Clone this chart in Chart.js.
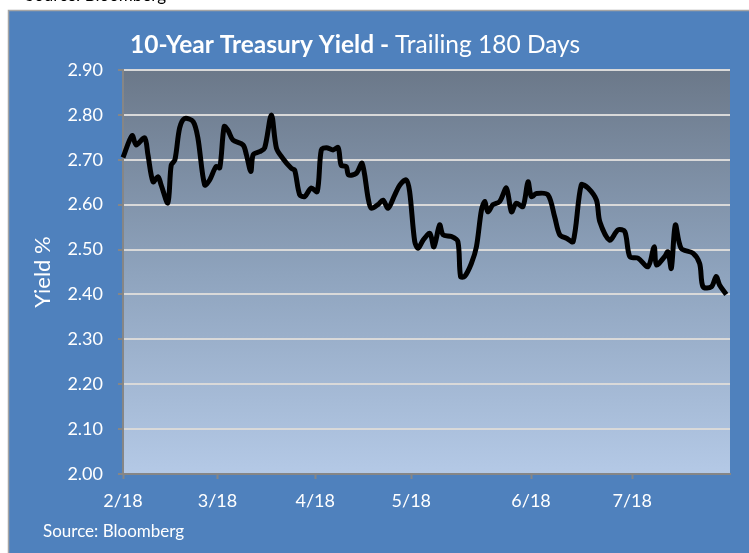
<!DOCTYPE html>
<html><head><meta charset="utf-8">
<script src="https://cdn.jsdelivr.net/npm/chart.js@4"></script>
<style>html,body{margin:0;padding:0;background:#fff;overflow:hidden}</style>
</head><body>
<canvas id="c" width="749" height="553" style="display:block;width:749px;height:553px"></canvas>
<script>
// Day offsets (from 2/18) and 10-year yield readings
const days = [0,2.7,3.9,6.4,7.4,8.9,10.4,11.3,13.3,14.3,15.4,16.8,18.3,20.8,22.2,24.2,25.7,27.6,28.7,30.0,31.1,32.6,35.6,36.6,37.9,38.6,40.5,42.0,44.0,45.5,47.4,49.9,50.9,52.4,53.9,55.8,57.6,58.8,60.3,62.3,63.8,64.7,66.2,66.9,69.2,70.9,72.7,73.6,75.6,77.1,78.6,80.6,82.1,84.0,85.0,86.5,87.5,89.0,91.0,92.2,93.9,94.9,97.4,99.3,100.1,101.3,103.3,104.8,106.3,107.3,108.2,109.7,111.7,113.7,115.2,116.6,118.6,120.1,121.1,122.6,126.0,128.0,129.5,131.5,133.5,135.9,137.9,140.4,141.4,144.3,146.8,148.8,150.3,152.7,155.7,157.5,158.2,160.6,161.6,162.6,163.8,165.5,169.0,171.0,172.0,174.5,175.9,176.9,178.9];
const yields = [2.705,2.754,2.733,2.749,2.711,2.651,2.662,2.644,2.604,2.688,2.70,2.771,2.792,2.785,2.749,2.644,2.655,2.685,2.682,2.774,2.766,2.744,2.733,2.711,2.674,2.711,2.718,2.726,2.80,2.726,2.703,2.681,2.677,2.622,2.618,2.637,2.629,2.722,2.727,2.722,2.727,2.688,2.685,2.666,2.67,2.692,2.614,2.592,2.60,2.61,2.592,2.622,2.644,2.655,2.629,2.518,2.503,2.521,2.536,2.506,2.555,2.533,2.529,2.518,2.44,2.44,2.469,2.506,2.588,2.607,2.584,2.60,2.607,2.637,2.584,2.603,2.596,2.651,2.618,2.625,2.622,2.573,2.533,2.525,2.518,2.644,2.637,2.61,2.562,2.521,2.544,2.54,2.484,2.481,2.462,2.506,2.466,2.484,2.495,2.458,2.555,2.503,2.492,2.469,2.417,2.417,2.44,2.421,2.40];
const tickDays = [0,28,57,85.5,121,151];
const tickLabels = ['2/18','3/18','4/18','5/18','6/18','7/18'];
const yMin = 2.0, yMax = 2.9, yStep = 0.1;
const titleBold = '10-Year Treasury Yield - ';
const titleRegular = 'Trailing 180 Days';
const yTitle = 'Yield %';
const sourceText = 'Source: Bloomberg';

const FONT = 'Lato, "Open Sans", sans-serif';
const points = days.map((d,i)=>({x:d,y:yields[i]}));

const decor = {
  id:'decor',
  beforeDraw(chart){
    const ctx = chart.ctx, a = chart.chartArea;
    ctx.save();
    ctx.fillStyle='#fff'; ctx.fillRect(0,0,chart.width,chart.height);
    ctx.fillStyle='#4F81BD'; ctx.fillRect(8,10,chart.width-8,chart.height-10);
    ctx.strokeStyle='#A5A5A5'; ctx.lineWidth=1.5;
    ctx.strokeRect(8.5,10.5,chart.width,chart.height);
    const g = ctx.createLinearGradient(0,a.top,0,a.bottom);
    g.addColorStop(0,'#6B7889'); g.addColorStop(0.5,'#8EA3BD'); g.addColorStop(1,'#B4C9E6');
    ctx.fillStyle=g; ctx.fillRect(a.left,a.top,a.right-a.left,a.bottom-a.top);
    ctx.restore();
  },
  afterDraw(chart){
    const ctx = chart.ctx;
    ctx.save();
    ctx.textBaseline='alphabetic'; ctx.textAlign='left';
    ctx.fillStyle='#000'; ctx.font='17px '+FONT;
    ctx.fillText(sourceText,25,1);
    ctx.fillStyle='#fff';
    ctx.font='bold 24.5px '+FONT;
    ctx.fillText(titleBold,130,53);
    const w = ctx.measureText(titleBold).width;
    ctx.font='24.5px '+FONT;
    ctx.fillText(titleRegular,130+w,53);
    ctx.font='17px '+FONT;
    ctx.fillText(sourceText,43,537);
    ctx.restore();
  }
};

new Chart(document.getElementById('c'),{
  type:'line',
  data:{datasets:[{data:points,borderColor:'#000',borderWidth:5,pointRadius:0,tension:0.3,fill:false,clip:false}]},
  options:{
    responsive:false, animation:false, devicePixelRatio:1,
    layout:{padding:{left:0,top:70,right:19,bottom:39}},
    plugins:{legend:{display:false},tooltip:{enabled:false},title:{display:false}},
    scales:{
      x:{type:'linear',min:0,max:180,
        afterBuildTicks(s){s.ticks=tickDays.map(v=>({value:v}));},
        afterFit(s){s.height=40;},
        grid:{drawOnChartArea:false,drawTicks:true,tickLength:5,tickColor:'#868686',tickWidth:2},
        border:{color:'#868686',width:2},
        ticks:{color:'#fff',font:{family:FONT,size:18},padding:11,maxRotation:0,autoSkip:false,
          callback:(v,i)=>tickLabels[i]}
      },
      y:{min:yMin,max:yMax,
        afterFit(s){s.width=123;},
        grid:{color:'#D9D9D9',lineWidth:2,tickLength:5,tickColor:'#868686',tickWidth:2},
        border:{color:'#868686',width:2},
        ticks:{stepSize:yStep,color:'#fff',font:{family:FONT,size:18},padding:15,
          callback:v=>Number(v).toFixed(2)},
        title:{display:true,text:yTitle,color:'#fff',font:{family:FONT,size:22},padding:{top:30,bottom:0}}
      }
    }
  },
  plugins:[decor]
});
</script>
</body></html>
